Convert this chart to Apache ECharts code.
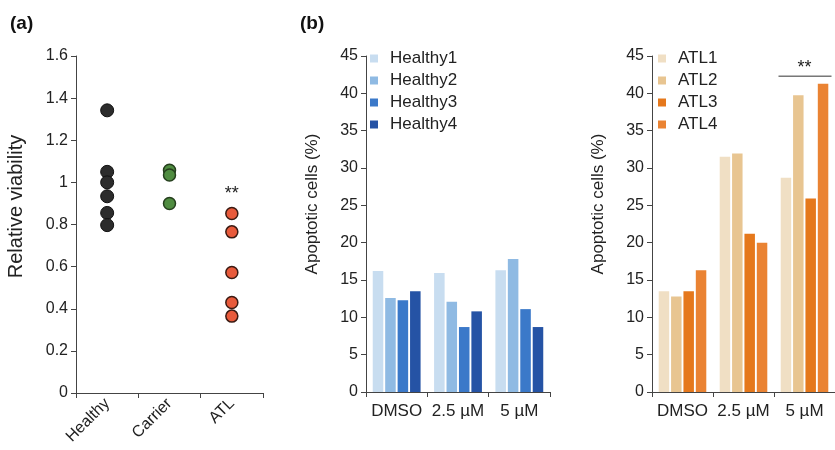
<!DOCTYPE html>
<html><head><meta charset="utf-8">
<script src="https://cdn.jsdelivr.net/npm/echarts@6/dist/echarts.min.js"></script>
<style>html,body{margin:0;padding:0;background:#fff}#c{width:835px;height:450px}</style>
</head><body><div id="c"></div>
<script>
// Panel (a)
const groupsA = ['Healthy', 'Carrier', 'ATL'];
const healthyVals = [1.342, 1.05, 1.0, 0.934, 0.855, 0.797];
const carrierVals = [1.058, 1.035, 0.90];
const atlVals = [0.852, 0.765, 0.572, 0.43, 0.365];
const yTicksA = [0, 1.6, 0.2];
// Panel (b)
const doses = ['DMSO', '2.5 \u00b5M', '5 \u00b5M'];
const healthyNames = ['Healthy1', 'Healthy2', 'Healthy3', 'Healthy4'];
const healthy1 = [16.2, 15.95, 16.3];
const healthy2 = [12.6, 12.1, 17.8];
const healthy3 = [12.3, 8.7, 11.1];
const healthy4 = [13.5, 10.8, 8.7];
const atlNames = ['ATL1', 'ATL2', 'ATL3', 'ATL4'];
const atl1 = [13.5, 31.5, 28.7];
const atl2 = [12.8, 31.95, 39.75];
const atl3 = [13.5, 21.2, 25.9];
const atl4 = [16.3, 20.0, 41.3];
const yTicksB = [0, 45, 5];

const healthyColors = ['#c8ddf0', '#8fbae3', '#3b79c9', '#2553a5'];
const atlColors = ['#f0dfc4', '#e8c591', '#e5781c', '#ea8333'];

const FONT = '"Liberation Sans", Arial, sans-serif';
const txt = '#222';
const axisCol = '#444';

function yAxis(grid, t, name, gap, nameSize, shift) {
  return {
    type: 'value', gridIndex: grid, min: t[0], max: t[1], interval: t[2],
    name: name, nameLocation: 'middle', nameGap: gap,
    nameTextStyle: {fontFamily: FONT, fontSize: nameSize, color: txt, padding: [0, 0, 0, shift]},
    axisLine: {show: true, lineStyle: {color: axisCol}},
    axisTick: {show: true, length: 5, lineStyle: {color: axisCol}},
    axisLabel: {fontFamily: FONT, fontSize: 16, color: txt, margin: 8},
    splitLine: {show: false}
  };
}
function xAxis(grid, cats, rotate, margin, size) {
  return {
    type: 'category', gridIndex: grid, data: cats,
    axisLine: {show: true, lineStyle: {color: axisCol}},
    axisTick: {show: true, length: 5, lineStyle: {color: axisCol}},
    axisLabel: {fontFamily: FONT, fontSize: size, color: txt, rotate: rotate, margin: margin, interval: 0},
    splitLine: {show: false}
  };
}
function pts(vals, cat) { return vals.map(v => [cat, v]); }

const series = [
  {type: 'scatter', xAxisIndex: 0, yAxisIndex: 0, data: pts(healthyVals, 'Healthy'), symbolSize: 13,
   itemStyle: {color: '#2c2c2c', borderColor: '#111', borderWidth: 1, opacity: 1}},
  {type: 'scatter', xAxisIndex: 0, yAxisIndex: 0, data: pts(carrierVals, 'Carrier'), symbolSize: 12,
   itemStyle: {color: '#4f8c40', borderColor: '#253f1d', borderWidth: 1.5, opacity: 1}},
  {type: 'scatter', xAxisIndex: 0, yAxisIndex: 0, data: pts(atlVals, 'ATL'), symbolSize: 12,
   itemStyle: {color: '#e85a3b', borderColor: '#3a1a12', borderWidth: 1.5, opacity: 1}}
];
const hVals = [healthy1, healthy2, healthy3, healthy4];
const aVals = [atl1, atl2, atl3, atl4];
healthyNames.forEach((n, i) => series.push({
  type: 'bar', name: n, xAxisIndex: 1, yAxisIndex: 1, data: hVals[i],
  itemStyle: {color: healthyColors[i]}, barCategoryGap: '22%', barGap: '18%'
}));
atlNames.forEach((n, i) => series.push({
  type: 'bar', name: n, xAxisIndex: 2, yAxisIndex: 2, data: aVals[i],
  itemStyle: {color: atlColors[i]}, barCategoryGap: '22%', barGap: '18%'
}));

function legend(names, left) {
  return {
    data: names.map(n => ({name: n, icon: 'rect'})), orient: 'vertical', left: left, top: 45,
    itemWidth: 8, itemHeight: 8, itemGap: 5,
    textStyle: {fontFamily: FONT, fontSize: 17, color: txt, lineHeight: 17, padding: [0, 0, 0, 7]},
    selectedMode: false
  };
}

const chart = echarts.init(document.getElementById('c'), null, {renderer: 'canvas'});
chart.setOption({
  animation: false,
  backgroundColor: '#fff',
  grid: [
    {left: 76, top: 56, width: 187, height: 337},
    {left: 366, top: 56, width: 184, height: 336},
    {left: 652, top: 56, width: 184, height: 336}
  ],
  xAxis: [xAxis(0, groupsA, 45, 8, 16), xAxis(1, doses, 0, 11, 17), xAxis(2, doses, 0, 11, 17)],
  yAxis: [
    yAxis(0, yTicksA, 'Relative viability', 50, 20, 36),
    yAxis(1, yTicksB, 'Apoptotic cells (%)', 45, 17, 40),
    yAxis(2, yTicksB, 'Apoptotic cells (%)', 45, 17, 40)
  ],
  legend: [legend(healthyNames, 365), legend(atlNames, 653)],
  series: series
});

// annotations anchored to data coordinates
const pA = chart.convertToPixel({xAxisIndex: 0, yAxisIndex: 0}, ['ATL', 0.945]);
const pB = chart.convertToPixel({xAxisIndex: 2, yAxisIndex: 2}, ['5 \u00b5M', 42.3]);
chart.setOption({
  graphic: [
    {type: 'text', left: 10, top: 14, style: {text: '(a)', font: 'bold 19px ' + FONT, fill: '#111'}},
    {type: 'text', left: 300, top: 14, style: {text: '(b)', font: 'bold 19px ' + FONT, fill: '#111'}},
    {type: 'text', x: pA[0], y: pA[1], style: {text: '**', font: '18px ' + FONT, fill: '#222', align: 'center', verticalAlign: 'middle'}},
    {type: 'line', shape: {x1: pB[0] - 26, y1: pB[1], x2: pB[0] + 27, y2: pB[1]}, style: {stroke: '#333', lineWidth: 1}},
    {type: 'text', x: pB[0], y: pB[1] - 8, style: {text: '**', font: '18px ' + FONT, fill: '#222', align: 'center', verticalAlign: 'middle'}}
  ]
});
</script></body></html>
